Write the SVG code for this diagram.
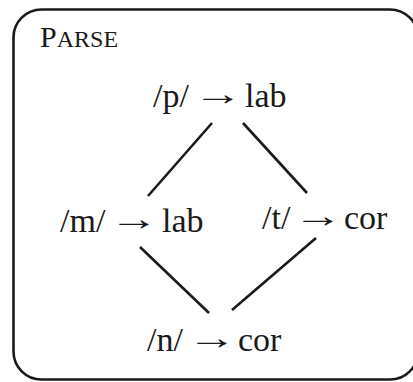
<svg xmlns="http://www.w3.org/2000/svg" width="413" height="382" viewBox="0 0 413 382">
<style>
.t{font-family:"Liberation Serif","Times New Roman",serif;font-size:34px;fill:#1a1a1a}
.a{font-family:"Liberation Serif","Times New Roman",serif;font-size:34px;fill:#1a1a1a;text-anchor:middle}
.c{stroke:#1a1a1a;stroke-width:2.6;fill:none;stroke-linecap:butt}
</style>
<rect x="13.5" y="9.5" width="404.5" height="370" rx="28" ry="28" fill="#fff" stroke="#1a1a1a" stroke-width="2.6"/>
<text x="40" y="47" style="font-family:'Liberation Serif','Times New Roman',serif;fill:#1a1a1a"><tspan font-size="30">P</tspan><tspan font-size="24">ARSE</tspan></text>
<g id="connectors">
<line class="c" x1="212" y1="123" x2="148" y2="196"/>
<line class="c" x1="243" y1="123" x2="307" y2="193"/>
<line class="c" x1="140" y1="247" x2="209" y2="313"/>
<line class="c" x1="316" y1="238" x2="232" y2="310"/>
</g>
<g id="node-p"><text class="t" x="153" y="107">/p/</text><text class="a" transform="translate(218,105) scale(1.45,1)">→</text><text class="t" x="245" y="107">lab</text></g>
<g id="node-m"><text class="t" x="60" y="232">/m/</text><text class="a" transform="translate(134,230) scale(1.45,1)">→</text><text class="t" x="162" y="232">lab</text></g>
<g id="node-t"><text class="t" x="262" y="229">/t/</text><text class="a" transform="translate(318,227) scale(1.45,1)">→</text><text class="t" x="344" y="229">cor</text></g>
<g id="node-n"><text class="t" x="147" y="351">/n/</text><text class="a" transform="translate(212,349) scale(1.45,1)">→</text><text class="t" x="238" y="351">cor</text></g>
</svg>
